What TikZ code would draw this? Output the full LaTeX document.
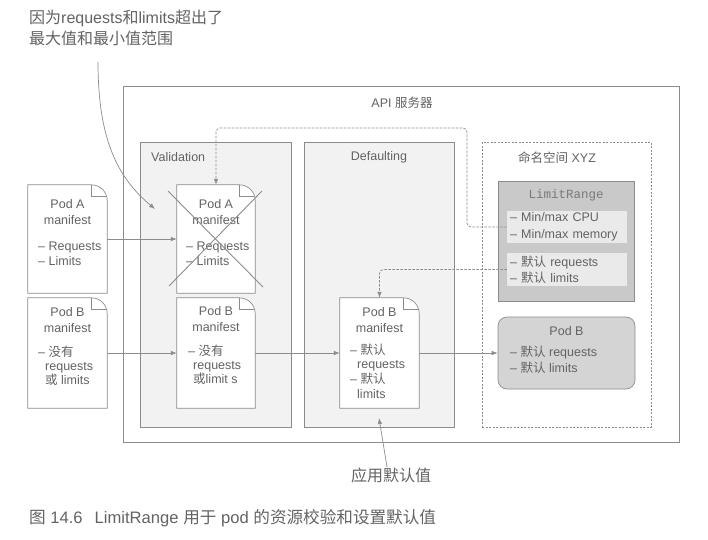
\documentclass[tikz,border=0pt]{standalone}
\usepackage{fontspec}
\setmainfont{Liberation Sans}
\setmonofont{Liberation Mono}
\newfontfamily\zhfont{Noto Sans CJK SC}
\newcommand\zh[1]{{\zhfont #1}}
\usetikzlibrary{arrows.meta}
\definecolor{lg}{HTML}{8C8C8C}
\definecolor{tg}{HTML}{636363}
\definecolor{panelfill}{HTML}{F2F2F2}
\definecolor{lrfill}{HTML}{C9C9C9}
\definecolor{lrinner}{HTML}{EAEAEA}
\definecolor{podfill}{HTML}{D4D4D4}
\newcommand\docshape[1]{%
  \draw[docline] (#1.south west) -- (#1.north west) -- ([shift={(-16,0)}]#1.north east)
    .. controls ([shift={(-7,0)}]#1.north east) and ([shift={(0,7)}]#1.north east) .. ([shift={(0,16)}]#1.north east)
    -- (#1.south east) -- cycle;
  \draw[docline,fill=none] ([shift={(-16,0)}]#1.north east) -- ([shift={(-16,12)}]#1.north east) -- ([shift={(-1.5,12)}]#1.north east);
}
\tikzset{
  base/.style={font=\fontsize{12.5}{16}\selectfont, text=tg},
  boxnode/.style={draw=lg, line width=0.7pt, inner sep=0pt},
  panel/.style={boxnode, fill=panelfill},
  docnode/.style={inner sep=0pt, minimum width=79pt},
  docline/.style={draw=lg, line width=0.7pt, fill=white},
  title/.style={base, align=center, inner sep=0pt},
  bullets/.style={base, align=left, inner sep=0pt, anchor=west, font=\fontsize{12.5}{14.6}\selectfont},
  arr/.style={draw=lg, line width=0.7pt, -{Latex[length=6pt,width=4.5pt]}},
  dasharr/.style={arr, dash pattern=on 2.5pt off 1.5pt, rounded corners=4pt},
  crossline/.style={draw=lg, line width=0.9pt},
}
\begin{document}
\begin{tikzpicture}[x=1pt,y=-1pt]
\useasboundingbox[fill=white] (0,0) rectangle (708,539);

% outer API server box
\node[boxnode, fill=white, minimum width=556pt, minimum height=356pt] (outer) at (401,264) {};
\node[base, inner sep=0pt] (apititle) at (402,103) {API \zh{服务器}};

% panels
\node[panel, minimum width=151pt, minimum height=285pt] (valbox) at (215.5,284.5) {};
\node[panel, minimum width=150pt, minimum height=285pt] (defbox) at (379,284.5) {};
\node[boxnode, fill=white, dash pattern=on 2pt off 1.5pt, minimum width=169pt, minimum height=285pt] (nsbox) at (566.5,284.5) {};
\node[base, inner sep=0pt, anchor=west] (valtitle) at (151,157) {Validation};
\node[base, inner sep=0pt] (deftitle) at (379,157) {Defaulting};
\node[base, inner sep=0pt] (nstitle) at (557,158) {\zh{命名空间} XYZ};

% LimitRange
\node[boxnode, fill=lrfill, minimum width=136pt, minimum height=120pt] (lrbox) at (566,241) {};
\node[base, inner sep=0pt, font=\ttfamily\fontsize{12.5}{15}\selectfont, text=tg!85] (lrtitle) at (566,195) {LimitRange};
\node[fill=lrinner, inner xsep=3pt, inner ysep=0pt, text width=114pt, minimum height=32pt, align=left, base, font=\fontsize{12.5}{17}\selectfont] (lr1) at (567,227) {– Min/max CPU\\– Min/max memory};
\node[fill=lrinner, inner xsep=3pt, inner ysep=0pt, text width=114pt, minimum height=33pt, align=left, base, font=\fontsize{12.5}{16}\selectfont] (lr2) at (567,269.5) {– \zh{默认} requests\\– \zh{默认} limits};

% Pod B in namespace
\node[boxnode, fill=podfill, rounded corners=9pt, minimum width=137pt, minimum height=72pt] (podbox) at (566.5,353) {};
\node[title] (podtitle) at (566.5,331) {Pod B};
\node[bullets, font=\fontsize{12.5}{16}\selectfont] (podlist) at (510,360) {– \zh{默认} requests\\– \zh{默认} limits};

% documents
\node[docnode, minimum height=108pt] (docA1) at (67.5,239) {};
\node[docnode, minimum height=110pt] (docB1) at (67.5,353) {};
\node[docnode, minimum width=78pt, minimum height=108pt] (docA2) at (216,239) {};
\node[docnode, minimum width=78pt, minimum height=110pt] (docB2) at (216,353) {};
\node[docnode, minimum height=110pt] (docB3) at (379.5,353) {};
\docshape{docA1}
\docshape{docB1}
\docshape{docA2}
\docshape{docB2}
\docshape{docB3}

% document texts
\node[title] (tA1) at (67.5,212) {Pod A\\manifest};
\node[bullets, font=\fontsize{12.5}{15}\selectfont] (lA1) at (38,253.5) {– Requests\\– Limits};
\node[title] (tB1) at (67.5,320) {Pod B\\manifest};
\node[bullets, font=\fontsize{12.5}{14}\selectfont] (lB1) at (38,366) {– \zh{没有}\\\hspace*{7pt}requests\\\hspace*{7pt}\zh{或} limits};
\node[title] (tA2) at (216,212) {Pod A\\manifest};
\node[bullets, font=\fontsize{12.5}{15}\selectfont] (lA2) at (186,253.5) {– Requests\\– Limits};
\node[title] (tB2) at (216,319.5) {Pod B\\manifest};
\node[bullets, font=\fontsize{12.5}{14}\selectfont] (lB2) at (188,365) {– \zh{没有}\\\hspace*{5pt}requests\\\hspace*{5pt}\zh{或}limit s};
\node[title] (tB3) at (379.5,320) {Pod B\\manifest};
\node[bullets] (lB3) at (350,371) {– \zh{默认}\\\hspace*{7pt}requests\\– \zh{默认}\\\hspace*{7pt}limits};

% cross over Pod A
\draw[crossline] ([shift={(-48,-48)}]docA2.center) -- ([shift={(47,48)}]docA2.center);
\draw[crossline] ([shift={(46,-48)}]docA2.center) -- ([shift={(-47,47)}]docA2.center);

% solid connectors
\draw[arr] (docA1.east) -- (docA2.west);
\draw[arr] (docB1.east) -- (docB2.west);
\draw[arr] (docB2.east) -- (docB3.west);
\draw[arr] (docB3.east) -- (podbox.west);

% dashed connectors from LimitRange
\coordinate (turn1) at (467,128);
\draw[dasharr] (lr1.west) -| (turn1) -| (docA2.north);
\draw[dasharr] (lr2.west) -| (docB3.north);

% annotation top
\node[base, anchor=west, align=left, inner sep=0pt, font=\fontsize{16}{21}\selectfont] (note) at (29,27.5) {\zh{因为}requests\zh{和}limits\zh{超出了}\\\zh{最大值和最小值范围}};
\coordinate (notestart) at (98,62);
\coordinate (notetip) at (155,209);
\draw[arr] (notestart) .. controls (98,140) and (118,178) .. (notetip);

% bottom annotation
\node[base, inner sep=0pt, font=\fontsize{16}{20}\selectfont] (apply) at (391,475) {\zh{应用默认值}};
\coordinate (applytip) at (379,418);
\draw[arr] ([shift={(-4,-8)}]apply.center) -- (applytip);

% caption
\node[base, anchor=west, inner sep=0pt, font=\fontsize{16.6}{20}\selectfont] (caption) at (29,518) {\zh{图} 14.6\hspace{12pt}LimitRange \zh{用于} pod \zh{的资源校验和设置默认值}};
\end{tikzpicture}
\end{document}
